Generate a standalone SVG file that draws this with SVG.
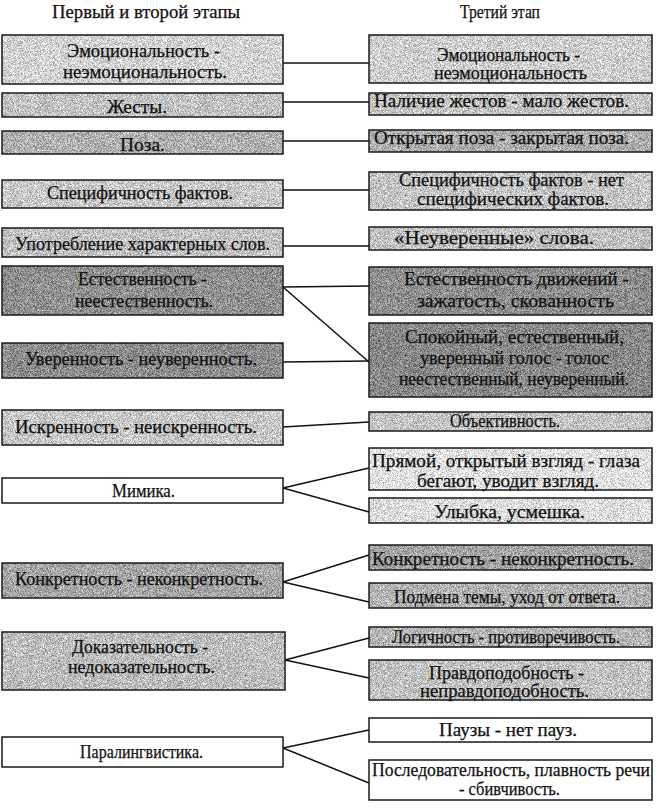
<svg xmlns="http://www.w3.org/2000/svg" width="657" height="811" viewBox="0 0 657 811" font-family="Liberation Serif, Times New Roman, serif">
<style>
  .bg{fill:#ffffff}
  .fill{filter:url(#grain);stroke:none}
  .box{fill:none;stroke:#1a1a1a;stroke-width:1.5}
  text{font-size:18px;fill:#111111;stroke:#111111;stroke-width:0.25}
  .conn line{stroke:#111111;stroke-width:1.5;fill:none}
</style>
<defs>
  <filter id="grain" x="0" y="0" width="1" height="1" color-interpolation-filters="sRGB">
    <feTurbulence type="fractalNoise" baseFrequency="1.6" numOctaves="1" seed="4" result="t"/>
    <feColorMatrix in="t" type="matrix" values="1 0 0 0 0  1 0 0 0 0  1 0 0 0 0  0 0 0 0 1" result="g"/>
    <feComposite in="SourceGraphic" in2="g" operator="arithmetic" k1="0" k2="1" k3="1.0" k4="-0.5" result="c"/>
    <feComposite in="c" in2="SourceGraphic" operator="in"/>
  </filter>
</defs>
<rect class="bg" x="0" y="0" width="657" height="811"/>

<g id="headers">
  <text x="52" y="18" textLength="188" lengthAdjust="spacingAndGlyphs">Первый и второй этапы</text>
  <text x="460" y="18" textLength="80" lengthAdjust="spacingAndGlyphs">Третий этап</text>
</g>

<g id="connectors" class="conn">
  <line x1="283" y1="63" x2="369" y2="63"/>
  <line x1="283" y1="102" x2="369" y2="102"/>
  <line x1="283" y1="141" x2="369" y2="141"/>
  <line x1="283" y1="190" x2="369" y2="190"/>
  <line x1="283" y1="246" x2="369" y2="246"/>
  <line x1="283" y1="287" x2="369" y2="286"/>
  <line x1="283" y1="287" x2="369" y2="362"/>
  <line x1="283" y1="362" x2="369" y2="361"/>
  <line x1="283" y1="427" x2="369" y2="422"/>
  <line x1="283" y1="488" x2="369" y2="468"/>
  <line x1="283" y1="488" x2="369" y2="512"/>
  <line x1="283" y1="582" x2="369" y2="555"/>
  <line x1="283" y1="582" x2="369" y2="602"/>
  <line x1="285" y1="660" x2="369" y2="638"/>
  <line x1="285" y1="660" x2="369" y2="678"/>
  <line x1="283" y1="748" x2="369" y2="730"/>
  <line x1="283" y1="748" x2="369" y2="783"/>
</g>

<!-- Left column -->
<g id="L1">
  <rect class="fill" x="2" y="35" width="281" height="49" fill="#d3d3d3"/>
  <rect class="box" x="2" y="35" width="281" height="49"/>
  <text x="67" y="57" textLength="153" lengthAdjust="spacingAndGlyphs">Эмоциональность -</text>
  <text x="63" y="78" textLength="164" lengthAdjust="spacingAndGlyphs">неэмоциональность.</text>
</g>
<g id="L2">
  <rect class="fill" x="2" y="93" width="281" height="24" fill="#c3c3c3"/>
  <rect class="box" x="2" y="93" width="281" height="24"/>
  <text x="107" y="113" textLength="60" lengthAdjust="spacingAndGlyphs">Жесты.</text>
</g>
<g id="L3">
  <rect class="fill" x="2" y="131" width="281" height="23" fill="#b0b0b0"/>
  <rect class="box" x="2" y="131" width="281" height="23"/>
  <text x="120" y="151" textLength="45" lengthAdjust="spacingAndGlyphs">Поза.</text>
</g>
<g id="L4">
  <rect class="fill" x="2" y="180" width="281" height="28" fill="#c9c9c9"/>
  <rect class="box" x="2" y="180" width="281" height="28"/>
  <text x="47" y="199" textLength="186" lengthAdjust="spacingAndGlyphs">Специфичность фактов.</text>
</g>
<g id="L5">
  <rect class="fill" x="2" y="228" width="281" height="29" fill="#c2c2c2"/>
  <rect class="box" x="2" y="228" width="281" height="29"/>
  <text x="15" y="250" textLength="255" lengthAdjust="spacingAndGlyphs">Употребление характерных слов.</text>
</g>
<g id="L6">
  <rect class="fill" x="2" y="266" width="281" height="49" fill="#8f8f8f"/>
  <rect class="box" x="2" y="266" width="281" height="49"/>
  <text x="78" y="285" textLength="129" lengthAdjust="spacingAndGlyphs">Естественность -</text>
  <text x="75" y="307" textLength="138" lengthAdjust="spacingAndGlyphs">неестественность.</text>
</g>
<g id="L7">
  <rect class="fill" x="2" y="343" width="281" height="35" fill="#8c8c8c"/>
  <rect class="box" x="2" y="343" width="281" height="35"/>
  <text x="25" y="365" textLength="232" lengthAdjust="spacingAndGlyphs">Уверенность - неуверенность.</text>
</g>
<g id="L8">
  <rect class="fill" x="2" y="410" width="281" height="35" fill="#c8c8c8"/>
  <rect class="box" x="2" y="410" width="281" height="35"/>
  <text x="15" y="433" textLength="242" lengthAdjust="spacingAndGlyphs">Искренность - неискренность.</text>
</g>
<g id="L9">
  <rect x="2" y="478" width="281" height="25" fill="#ffffff"/>
  <rect class="box" x="2" y="478" width="281" height="25"/>
  <text x="112" y="497" textLength="63" lengthAdjust="spacingAndGlyphs">Мимика.</text>
</g>
<g id="L10">
  <rect class="fill" x="2" y="563" width="281" height="35" fill="#a6a6a6"/>
  <rect class="box" x="2" y="563" width="281" height="35"/>
  <text x="15" y="585" textLength="248" lengthAdjust="spacingAndGlyphs">Конкретность - неконкретность.</text>
</g>
<g id="L11">
  <rect class="fill" x="2" y="632" width="283" height="58" fill="#bdbdbd"/>
  <rect class="box" x="2" y="632" width="283" height="58"/>
  <text x="72" y="653" textLength="136" lengthAdjust="spacingAndGlyphs">Доказательность -</text>
  <text x="68" y="673" textLength="147" lengthAdjust="spacingAndGlyphs">недоказательность.</text>
</g>
<g id="L12">
  <rect x="2" y="737" width="281" height="30" fill="#ffffff"/>
  <rect class="box" x="2" y="737" width="281" height="30"/>
  <text x="80" y="758" textLength="123" lengthAdjust="spacingAndGlyphs">Паралингвистика.</text>
</g>

<!-- Right column -->
<g id="R1">
  <rect class="fill" x="369" y="35" width="283" height="48" fill="#cfcfcf"/>
  <rect class="box" x="369" y="35" width="283" height="48"/>
  <text x="437" y="61" textLength="143" lengthAdjust="spacingAndGlyphs">Эмоциональность -</text>
  <text x="434" y="79" textLength="153" lengthAdjust="spacingAndGlyphs">неэмоциональность</text>
</g>
<g id="R2">
  <rect class="fill" x="369" y="93" width="283" height="22" fill="#c5c5c5"/>
  <rect class="box" x="369" y="93" width="283" height="22"/>
  <text x="374" y="107" textLength="255" lengthAdjust="spacingAndGlyphs">Наличие жестов - мало жестов.</text>
</g>
<g id="R3">
  <rect class="fill" x="369" y="130" width="283" height="22" fill="#aeaeae"/>
  <rect class="box" x="369" y="130" width="283" height="22"/>
  <text x="374" y="144" textLength="255" lengthAdjust="spacingAndGlyphs">Открытая поза - закрытая поза.</text>
</g>
<g id="R4">
  <rect class="fill" x="369" y="172" width="283" height="38" fill="#c6c6c6"/>
  <rect class="box" x="369" y="172" width="283" height="38"/>
  <text x="399" y="186" textLength="225" lengthAdjust="spacingAndGlyphs">Специфичность фактов - нет</text>
  <text x="417" y="205" textLength="192" lengthAdjust="spacingAndGlyphs">специфических фактов.</text>
</g>
<g id="R5">
  <rect class="fill" x="369" y="227" width="283" height="23" fill="#c2c2c2"/>
  <rect class="box" x="369" y="227" width="283" height="23"/>
  <text x="394" y="244" textLength="200" lengthAdjust="spacingAndGlyphs">«Неуверенные» слова.</text>
</g>
<g id="R6">
  <rect class="fill" x="369" y="267" width="283" height="48" fill="#8d8d8d"/>
  <rect class="box" x="369" y="267" width="283" height="48"/>
  <text x="404" y="285" textLength="225" lengthAdjust="spacingAndGlyphs">Естественность движений -</text>
  <text x="417" y="307" textLength="197" lengthAdjust="spacingAndGlyphs">зажатость, скованность</text>
</g>
<g id="R7">
  <rect class="fill" x="369" y="323" width="283" height="74" fill="#888888"/>
  <rect class="box" x="369" y="323" width="283" height="74"/>
  <text x="405" y="343" textLength="219" lengthAdjust="spacingAndGlyphs">Спокойный, естественный,</text>
  <text x="420" y="364" textLength="189" lengthAdjust="spacingAndGlyphs">уверенный голос - голос</text>
  <text x="399" y="385" textLength="230" lengthAdjust="spacingAndGlyphs">неестественный, неуверенный.</text>
</g>
<g id="R8">
  <rect class="fill" x="369" y="412" width="283" height="19" fill="#c4c4c4"/>
  <rect class="box" x="369" y="412" width="283" height="19"/>
  <text x="450" y="427" textLength="110" lengthAdjust="spacingAndGlyphs">Объективность.</text>
</g>
<g id="R9">
  <rect class="fill" x="369" y="448" width="283" height="42" fill="#e2e2e2"/>
  <rect class="box" x="369" y="448" width="283" height="42"/>
  <text x="372" y="467" textLength="268" lengthAdjust="spacingAndGlyphs">Прямой, открытый взгляд - глаза</text>
  <text x="417" y="487" textLength="182" lengthAdjust="spacingAndGlyphs">бегают, уводит взгляд.</text>
</g>
<g id="R10">
  <rect class="fill" x="369" y="498" width="283" height="25" fill="#dedede"/>
  <rect class="box" x="369" y="498" width="283" height="25"/>
  <text x="434" y="518" textLength="151" lengthAdjust="spacingAndGlyphs">Улыбка, усмешка.</text>
</g>
<g id="R11">
  <rect class="fill" x="369" y="545" width="283" height="25" fill="#a4a4a4"/>
  <rect class="box" x="369" y="545" width="283" height="25"/>
  <text x="372" y="565" textLength="262" lengthAdjust="spacingAndGlyphs">Конкретность - неконкретность.</text>
</g>
<g id="R12">
  <rect class="fill" x="369" y="583" width="283" height="25" fill="#b2b2b2"/>
  <rect class="box" x="369" y="583" width="283" height="25"/>
  <text x="394" y="603" textLength="226" lengthAdjust="spacingAndGlyphs">Подмена темы, уход от ответа.</text>
</g>
<g id="R13">
  <rect class="fill" x="369" y="627" width="283" height="20" fill="#b6b6b6"/>
  <rect class="box" x="369" y="627" width="283" height="20"/>
  <text x="392" y="643" textLength="228" lengthAdjust="spacingAndGlyphs">Логичность - противоречивость.</text>
</g>
<g id="R14">
  <rect class="fill" x="369" y="660" width="283" height="40" fill="#c2c2c2"/>
  <rect class="box" x="369" y="660" width="283" height="40"/>
  <text x="429" y="679" textLength="155" lengthAdjust="spacingAndGlyphs">Правдоподобность -</text>
  <text x="420" y="697" textLength="169" lengthAdjust="spacingAndGlyphs">неправдоподобность.</text>
</g>
<g id="R15">
  <rect x="369" y="718" width="283" height="24" fill="#ffffff"/>
  <rect class="box" x="369" y="718" width="283" height="24"/>
  <text x="439" y="736" textLength="138" lengthAdjust="spacingAndGlyphs">Паузы - нет пауз.</text>
</g>
<g id="R16">
  <rect x="369" y="760" width="283" height="40" fill="#ffffff"/>
  <rect class="box" x="369" y="760" width="283" height="40"/>
  <text x="372" y="776" textLength="278" lengthAdjust="spacingAndGlyphs">Последовательность, плавность речи</text>
  <text x="459" y="795" textLength="101" lengthAdjust="spacingAndGlyphs">- сбивчивость.</text>
</g>
</svg>
